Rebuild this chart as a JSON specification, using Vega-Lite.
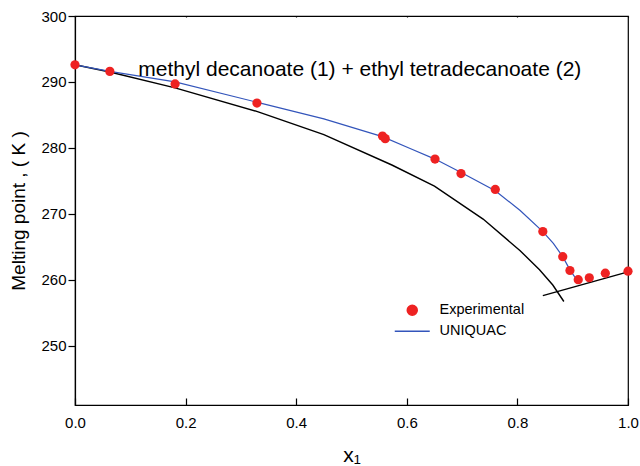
{
  "$schema": "https://vega.github.io/schema/vega-lite/v6.json",
  "width": 553,
  "height": 389,
  "autosize": "none",
  "padding": {"left": 75, "top": 16, "right": 12, "bottom": 61},
  "background": "white",
  "config": {
    "font": "Liberation Sans",
    "view": {"stroke": "black", "strokeWidth": 1.2},
    "axis": {"domainColor": "black", "tickColor": "black", "labelColor": "black", "titleColor": "black", "grid": false, "labelFontSize": 15, "titleFontSize": 19, "titleFontWeight": "normal", "domainWidth": 1.2, "tickWidth": 1.2},
    "legend": {"labelFontSize": 14.5, "labelColor": "black"}
  },
  "datasets": {
    "exp": [
      {"x": 0.0, "T": 292.6, "series": "Experimental"},
      {"x": 0.063, "T": 291.6, "series": "Experimental"},
      {"x": 0.181, "T": 289.7, "series": "Experimental"},
      {"x": 0.329, "T": 286.8, "series": "Experimental"},
      {"x": 0.556, "T": 281.8, "series": "Experimental"},
      {"x": 0.561, "T": 281.4, "series": "Experimental"},
      {"x": 0.651, "T": 278.3, "series": "Experimental"},
      {"x": 0.698, "T": 276.1, "series": "Experimental"},
      {"x": 0.760, "T": 273.7, "series": "Experimental"},
      {"x": 0.846, "T": 267.3, "series": "Experimental"},
      {"x": 0.882, "T": 263.5, "series": "Experimental"},
      {"x": 0.895, "T": 261.4, "series": "Experimental"},
      {"x": 0.910, "T": 260.0, "series": "Experimental"},
      {"x": 0.930, "T": 260.3, "series": "Experimental"},
      {"x": 0.959, "T": 261.0, "series": "Experimental"},
      {"x": 1.0, "T": 261.3, "series": "Experimental"}
    ],
    "uniquac": [
      {"x": 0.0, "T": 292.6, "series": "UNIQUAC"},
      {"x": 0.063, "T": 291.6, "series": "UNIQUAC"},
      {"x": 0.181, "T": 290.0, "series": "UNIQUAC"},
      {"x": 0.33, "T": 286.9, "series": "UNIQUAC"},
      {"x": 0.45, "T": 284.4, "series": "UNIQUAC"},
      {"x": 0.556, "T": 281.7, "series": "UNIQUAC"},
      {"x": 0.606, "T": 279.9, "series": "UNIQUAC"},
      {"x": 0.651, "T": 278.3, "series": "UNIQUAC"},
      {"x": 0.70, "T": 276.2, "series": "UNIQUAC"},
      {"x": 0.76, "T": 273.5, "series": "UNIQUAC"},
      {"x": 0.805, "T": 270.5, "series": "UNIQUAC"},
      {"x": 0.846, "T": 267.3, "series": "UNIQUAC"},
      {"x": 0.865, "T": 265.5, "series": "UNIQUAC"},
      {"x": 0.882, "T": 263.5, "series": "UNIQUAC"},
      {"x": 0.895, "T": 261.5, "series": "UNIQUAC"},
      {"x": 0.903, "T": 260.5, "series": "UNIQUAC"},
      {"x": 0.91, "T": 259.8, "series": "UNIQUAC"}
    ],
    "ideal": [
      {"x": 0.0, "T": 292.6, "curve": "a"},
      {"x": 0.063, "T": 291.5, "curve": "a"},
      {"x": 0.181, "T": 289.1, "curve": "a"},
      {"x": 0.33, "T": 285.5, "curve": "a"},
      {"x": 0.45, "T": 282.0, "curve": "a"},
      {"x": 0.573, "T": 277.4, "curve": "a"},
      {"x": 0.65, "T": 274.2, "curve": "a"},
      {"x": 0.738, "T": 269.2, "curve": "a"},
      {"x": 0.805, "T": 264.4, "curve": "a"},
      {"x": 0.84, "T": 261.5, "curve": "a"},
      {"x": 0.864, "T": 259.2, "curve": "a"},
      {"x": 0.884, "T": 256.7, "curve": "a"},
      {"x": 0.846, "T": 257.6, "curve": "b"},
      {"x": 1.0, "T": 261.2, "curve": "b"}
    ],
    "label": [
      {"x": 0.515, "T": 291.8, "text": "methyl decanoate (1) + ethyl tetradecanoate (2)"}
    ]
  },
  "layer": [
    {
      "data": {"name": "ideal"},
      "mark": {"type": "line", "color": "black", "strokeWidth": 1.4},
      "encoding": {
        "x": {"field": "x", "type": "quantitative", "scale": {"domain": [0, 1], "nice": false}, "axis": {"title": "x₁", "titleFontSize": 21, "values": [0, 0.2, 0.4, 0.6, 0.8, 1.0], "format": ".1f", "labelFlush": false, "ticks": false, "grid": true, "gridColor": "black", "gridWidth": 1.2, "gridDash": [1, 381, 8], "labelPadding": 10, "titlePadding": 14}},
        "y": {"field": "T", "type": "quantitative", "scale": {"domain": [241, 300], "nice": false, "zero": false}, "axis": {"title": "Melting point , ( K )", "values": [250, 260, 270, 280, 290, 300], "tickSize": 7, "labelPadding": 2, "titlePadding": 12}},
        "detail": {"field": "curve"},
        "order": {"field": "x", "type": "quantitative"}
      }
    },
    {
      "data": {"name": "uniquac"},
      "mark": {"type": "line", "strokeWidth": 1.2},
      "encoding": {
        "x": {"field": "x", "type": "quantitative"},
        "y": {"field": "T", "type": "quantitative"},
        "color": {"field": "series", "type": "nominal", "scale": {"domain": ["Experimental", "UNIQUAC"], "range": ["#ee2222", "#3355bb"]},
          "legend": {"title": null, "orient": "none", "legendX": 330, "legendY": 287, "symbolSize": 100, "rowPadding": 4, "labelOffset": 20, "symbolStrokeWidth": 1.5}}
      }
    },
    {
      "data": {"name": "exp"},
      "mark": {"type": "point", "filled": true, "size": 85, "opacity": 1},
      "encoding": {
        "x": {"field": "x", "type": "quantitative"},
        "y": {"field": "T", "type": "quantitative"},
        "color": {"field": "series", "type": "nominal", "scale": {"domain": ["Experimental", "UNIQUAC"], "range": ["#ee2222", "#3355bb"]},
          "legend": {"title": null, "orient": "none", "legendX": 330, "legendY": 287, "symbolSize": 100, "rowPadding": 4, "labelOffset": 20, "symbolStrokeWidth": 1.5}},
        "shape": {"field": "series", "type": "nominal", "scale": {"domain": ["Experimental", "UNIQUAC"], "range": ["circle", "M-3.5,0H3.5"]},
          "legend": {"title": null, "orient": "none", "legendX": 330, "legendY": 287, "symbolSize": 100, "rowPadding": 4, "labelOffset": 20, "symbolStrokeWidth": 1.5}}
      }
    },
    {
      "data": {"name": "label"},
      "mark": {"type": "text", "fontSize": 21, "color": "black", "align": "center", "baseline": "middle"},
      "encoding": {
        "x": {"field": "x", "type": "quantitative"},
        "y": {"field": "T", "type": "quantitative"},
        "text": {"field": "text"}
      }
    }
  ]
}
